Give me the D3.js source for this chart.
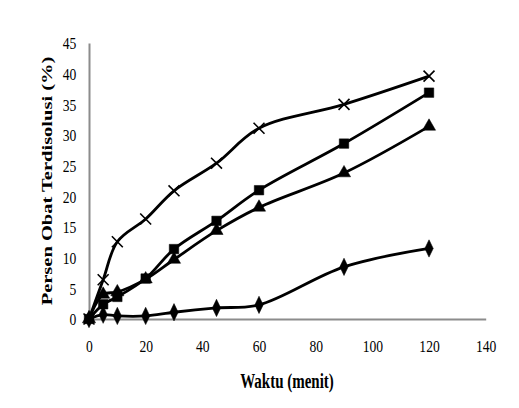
<!DOCTYPE html>
<html>
<head>
<meta charset="utf-8">
<script src="https://cdn.jsdelivr.net/npm/d3@7"></script>
<style>
  body { margin: 0; background: #fff; }
  text { font-family: "Liberation Serif", "Times New Roman", serif; fill: #000; }
</style>
</head>
<body>
<div id="vis"></div>
<script>
var width = 519;
var height = 408;

// waktu (menit)
var waktu = [0, 5, 10, 20, 30, 45, 60, 90, 120];

// persen obat terdisolusi, one array per formula
var seriesDiamond = [0, 0.7, 0.5, 0.5, 1.1, 1.8, 2.3, 8.5, 11.5];
var seriesSquare = [0, 2.4, 3.6, 6.6, 11.4, 16.0, 21.0, 28.6, 36.9];
var seriesTriangle = [0, 4.0, 4.4, 6.5, 9.7, 14.4, 18.2, 23.8, 31.4];
var seriesCross = [0, 6.4, 12.6, 16.3, 20.9, 25.4, 31.1, 35.0, 39.6];

var xTicks = [0, 20, 40, 60, 80, 100, 120, 140];
var yTicks = [0, 5, 10, 15, 20, 25, 30, 35, 40, 45];

var series = [
  {name: 'diamond', values: seriesDiamond},
  {name: 'square', values: seriesSquare},
  {name: 'triangle', values: seriesTriangle},
  {name: 'cross', values: seriesCross}
];

var svg = d3.select('#vis')
  .append('svg')
  .attr('width', width)
  .attr('height', height);

var x_scale = d3.scaleLinear()
  .domain([0, 140])
  .range([89, 485.7]);

var y_scale = d3.scaleLinear()
  .domain([0, 45])
  .range([319, 43]);

// axes (no tick marks, gray domain lines)
var x_axis = d3.axisBottom(x_scale)
  .tickValues(xTicks)
  .tickSize(0)
  .tickPadding(0);

var y_axis = d3.axisLeft(y_scale)
  .tickValues(yTicks)
  .tickSize(0)
  .tickPadding(0);

var gx = svg.append('g')
  .attr('class', 'x axis')
  .attr('transform', 'translate(0,' + y_scale(0) + ')')
  .call(x_axis);

gx.select('.domain')
  .attr('stroke', '#8c8c8c')
  .attr('stroke-width', 2);

gx.selectAll('text')
  .attr('y', 33)
  .attr('dy', 0)
  .attr('x', 0)
  .style('font-size', '16px')
  .attr('transform', 'scale(0.85,1)');

var gy = svg.append('g')
  .attr('class', 'y axis')
  .attr('transform', 'translate(' + x_scale(0) + ',0)')
  .call(y_axis);

gy.select('.domain')
  .attr('stroke', '#8c8c8c')
  .attr('stroke-width', 2);

gy.selectAll('text')
  .attr('x', -15)
  .attr('dy', '0.36em')
  .style('font-size', '16px')
  .attr('transform', 'scale(0.85,1)');

// lines
var line = d3.line()
  .x(function(d, i) { return x_scale(waktu[i]); })
  .y(function(d) { return y_scale(d); })
  .curve(d3.curveCatmullRom.alpha(0.5));

svg.selectAll('.line')
  .data(series)
  .enter()
  .append('path')
  .attr('class', 'line')
  .attr('fill', 'none')
  .attr('stroke', '#000')
  .attr('stroke-width', 2.8)
  .attr('d', function(d) { return line(d.values); });

// markers
var symbols = {
  diamond: d3.symbol().type(d3.symbolDiamond).size(60),
  square: d3.symbol().type(d3.symbolSquare).size(90),
  triangle: d3.symbol().type(d3.symbolTriangle).size(75),
  cross: d3.symbol().type(d3.symbolX).size(80)
};

series.forEach(function(s) {
  svg.selectAll('.mark-' + s.name)
    .data(s.values)
    .enter()
    .append('path')
    .attr('class', 'mark-' + s.name)
    .attr('transform', function(d, i) {
      var t = 'translate(' + x_scale(waktu[i]) + ',' + y_scale(d) + ')';
      if (s.name == 'diamond') t += ' scale(1,1.2)';
      return t;
    })
    .attr('d', symbols[s.name]())
    .attr('fill', s.name == 'cross' ? 'none' : '#000')
    .attr('stroke', '#000')
    .attr('stroke-width', s.name == 'cross' ? 1.6 : 0.5);
});

// axis titles
svg.append('text')
  .attr('transform', 'translate(287,388) scale(0.75,1)')
  .attr('text-anchor', 'middle')
  .style('font-size', '20px')
  .style('font-weight', 'bold')
  .text('Waktu (menit)');

svg.append('text')
  .attr('transform', 'translate(52,181) scale(0.75,1) rotate(-90)')
  .attr('text-anchor', 'middle')
  .style('font-size', '20.5px')
  .style('font-weight', 'bold')
  .text('Persen Obat Terdisolusi (%)');
</script>
</body>
</html>
